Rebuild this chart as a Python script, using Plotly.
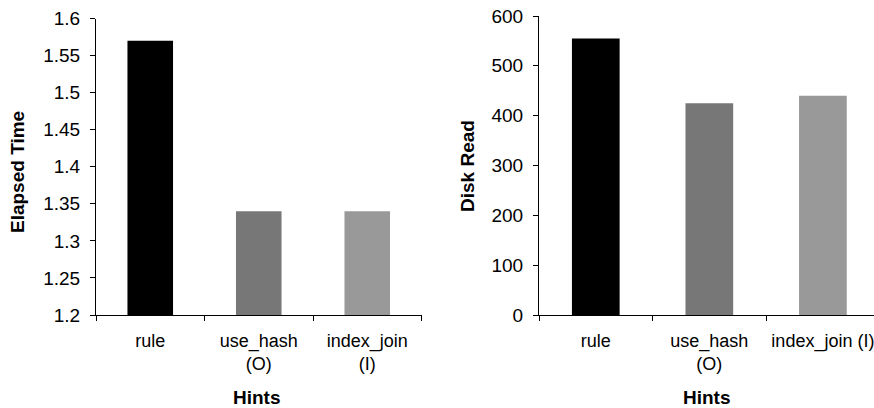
import plotly.graph_objects as go

categories_left = ["rule", "use_hash<br>(O)", "index_join<br>(I)"]
categories_right = ["rule", "use_hash<br>(O)", "index_join (I)"]
elapsed_time = [1.57, 1.34, 1.34]
disk_read = [555, 425, 440]
bar_colors = ["#000000", "#777777", "#999999"]
left_yticks = [1.2, 1.25, 1.3, 1.35, 1.4, 1.45, 1.5, 1.55, 1.6]
right_yticks = [0, 100, 200, 300, 400, 500, 600]

W, H = 874, 408
family = "Liberation Sans, Arial, sans-serif"
yfont = dict(family=family, size=19, color="#000000")
xfont = dict(family=family, size=18, color="#000000")

fig = go.Figure()
fig.add_trace(go.Bar(x=categories_left, y=elapsed_time, marker=dict(color=bar_colors, line=dict(width=0)),
                     xaxis="x", yaxis="y", showlegend=False))
fig.add_trace(go.Bar(x=categories_right, y=disk_read, marker=dict(color=bar_colors, line=dict(width=0)),
                     xaxis="x2", yaxis="y2", showlegend=False))

axis_common = dict(showline=True, linecolor="#000000", linewidth=1, showgrid=False, zeroline=False,
                   ticks="outside", ticklen=5, tickcolor="#000000", automargin=False)

fig.update_layout(
    width=W, height=H,
    margin=dict(l=0, r=0, t=16, b=93),
    paper_bgcolor="white", plot_bgcolor="white",
    bargap=0.58,
    font=yfont,
    xaxis=dict(domain=[96 / W, 421.5 / W], type="category", range=[-0.5, 2.5], anchor="y",
               tickson="boundaries", ticklabelstandoff=9, tickangle=0, tickfont=xfont, **axis_common),
    yaxis=dict(domain=[0, (315 - 18.5) / 299], range=[1.2, 1.6], tickvals=left_yticks,
               ticktext=[f"{v:g}" for v in left_yticks], anchor="x", ticklabelstandoff=6,
               tickfont=yfont, **axis_common),
    xaxis2=dict(domain=[539 / W, 1.0], type="category", range=[-0.5, 2.45], anchor="y2",
                tickson="boundaries", ticklabelstandoff=9, tickangle=0, tickfont=xfont, **axis_common),
    yaxis2=dict(domain=[0, 1], range=[0, 600], tickvals=right_yticks, anchor="x2", ticklabelstandoff=6,
                tickfont=yfont, **axis_common),
)

title_font = dict(family=family, size=19, color="#000000")
def add_label(text, px, py, angle=0):
    fig.add_annotation(text=f"<b>{text}</b>", xref="paper", yref="paper", x=px / W, y=(315 - py) / 299,
                       xanchor="center", yanchor="middle", textangle=angle, showarrow=False, font=title_font)

add_label("Elapsed Time", 17, 172, -90)
add_label("Disk Read", 467, 166, -90)
add_label("Hints", 257, 397)
add_label("Hints", 707, 397)

fig.write_html("out.html")
